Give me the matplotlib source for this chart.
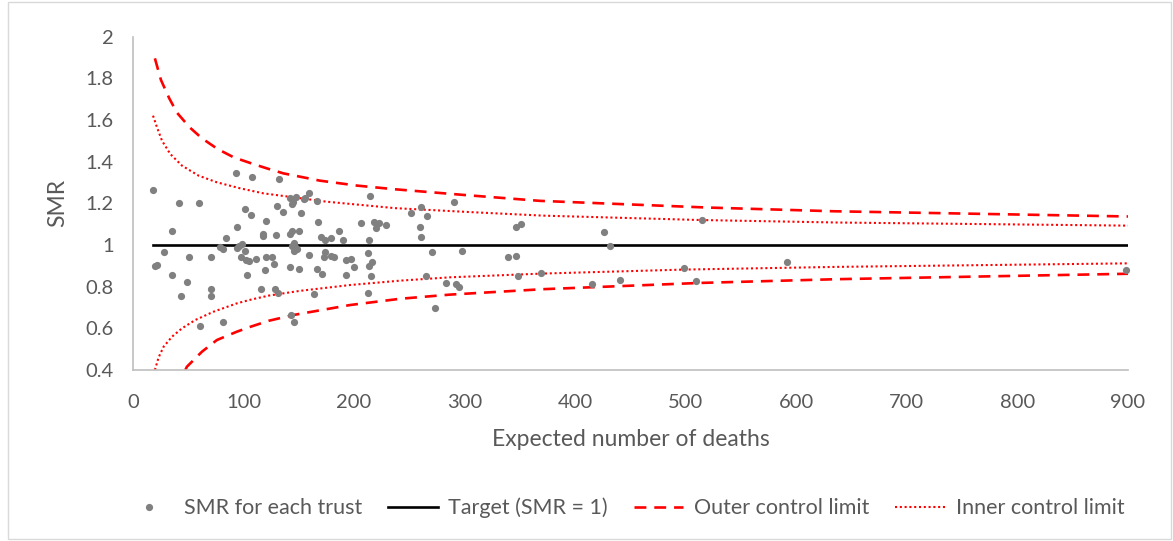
import matplotlib
matplotlib.use("Agg")
import matplotlib.pyplot as plt
from matplotlib.patches import Rectangle

# ---- data ----
trust_expected = [
    18.4, 41.9, 59.7, 93.4, 107.3, 101, 106.7, 120.3, 34.9, 94, 83.7, 117.2, 118,
    78.3, 81.4, 94, 96.1, 98.5, 101, 27.7, 50.3, 70.8, 97.9, 102.4, 104.5, 111.5,
    120.3, 21.7, 20.2, 119.6, 34.9, 102.7, 49.1, 115.4, 70.2, 43.7, 70.8, 60.9, 81.7,
    131.7, 159.4, 141.6, 147.7, 144.7, 143.8, 155.8, 154.6, 166.4, 214, 130.5, 135.3,
    152.2, 167.6, 205.8, 217.6, 222.1, 220, 228.8, 129.3, 144.1, 142.2, 149.7, 185.9,
    170.3, 173.3, 179.3, 189.9, 213.4, 145.2, 143.8, 146.5, 148.3, 145.2, 173.6, 125.7,
    127.8, 159.4, 172.7, 179, 182, 192.3, 196.8, 200.1, 212.8, 215.8, 213.1, 215.2,
    141.6, 149.7, 166.4, 170.9, 192.3, 128.4, 131.4, 164, 212.8, 142.9, 145.2,
    290.5, 251.9, 260.1, 265.8, 259.5, 346, 350.8, 260.7, 270.6, 297.8, 339.1, 346.3,
    265.2, 347.8, 369.2, 282.7, 292.1, 294.8, 273.1,
    425.6, 431.6, 514.5, 415, 440.9, 498.2, 509.4, 591.3, 898.6,
]
trust_smr = [
    1.264, 1.20, 1.20, 1.347, 1.326, 1.173, 1.144, 1.115, 1.067, 1.085, 1.035, 1.045, 1.053,
    0.989, 0.982, 0.986, 0.995, 1.005, 0.970, 0.966, 0.944, 0.941, 0.941, 0.928, 0.925, 0.931,
    0.941, 0.906, 0.898, 0.880, 0.856, 0.856, 0.822, 0.789, 0.789, 0.757, 0.757, 0.613, 0.632,
    1.315, 1.251, 1.227, 1.231, 1.208, 1.195, 1.227, 1.222, 1.210, 1.235, 1.186, 1.160,
    1.154, 1.109, 1.104, 1.110, 1.104, 1.083, 1.095, 1.046, 1.067, 1.053, 1.069, 1.069,
    1.040, 1.024, 1.032, 1.022, 1.022, 1.011, 0.995, 0.992, 0.979, 0.971, 0.966, 0.942,
    0.910, 0.950, 0.942, 0.949, 0.944, 0.926, 0.934, 0.894, 0.960, 0.918, 0.898, 0.853,
    0.894, 0.885, 0.885, 0.862, 0.857, 0.790, 0.770, 0.763, 0.770, 0.665, 0.629,
    1.208, 1.152, 1.182, 1.138, 1.088, 1.085, 1.101, 1.038, 0.966, 0.970, 0.944, 0.947,
    0.853, 0.851, 0.866, 0.816, 0.814, 0.798, 0.698,
    1.061, 0.995, 1.121, 0.811, 0.832, 0.891, 0.829, 0.917, 0.879,
]

target_x = [18, 900]
target_y = [1.0, 1.0]

outer_upper_x = [19.8, 25.3, 32.8, 39.8, 51.2, 62.4, 76.5, 91, 107, 121, 136, 169, 203, 236, 300, 368, 519, 634, 900]
outer_upper_y = [1.896, 1.792, 1.704, 1.635, 1.565, 1.512, 1.461, 1.421, 1.392, 1.368, 1.344, 1.309, 1.285, 1.268, 1.240, 1.212, 1.180, 1.162, 1.137]

inner_upper_x = [18.1, 21.7, 26.2, 33.7, 44.3, 59.3, 75.9, 97, 118, 175, 237, 305, 371, 513, 637, 900]
inner_upper_y = [1.621, 1.565, 1.501, 1.437, 1.381, 1.333, 1.301, 1.272, 1.248, 1.208, 1.177, 1.158, 1.141, 1.120, 1.108, 1.093]

inner_lower_x = [19.8, 23.2, 27.7, 35.3, 44.3, 56.3, 72.9, 94, 106, 122.6, 151, 196.5, 241.7, 287, 371, 498, 637, 900]
inner_lower_y = [0.400, 0.461, 0.512, 0.560, 0.600, 0.640, 0.680, 0.720, 0.737, 0.757, 0.780, 0.808, 0.829, 0.845, 0.863, 0.882, 0.895, 0.912]

outer_lower_x = [47.3, 48.8, 62.4, 75.9, 94, 106, 122.6, 145, 196.5, 241.7, 287, 371, 513, 637, 900]
outer_lower_y = [0.400, 0.416, 0.488, 0.544, 0.584, 0.607, 0.636, 0.664, 0.712, 0.742, 0.762, 0.788, 0.818, 0.836, 0.862]

x_ticks = [0, 100, 200, 300, 400, 500, 600, 700, 800, 900]
y_ticks = [0.4, 0.6, 0.8, 1.0, 1.2, 1.4, 1.6, 1.8, 2.0]
y_tick_labels = ["0.4", "0.6", "0.8", "1", "1.2", "1.4", "1.6", "1.8", "2"]

# ---- figure ----
plt.rcParams['font.family'] = ['Lato', 'DejaVu Sans']
W, H = 1173, 541
fig = plt.figure(figsize=(W / 100, H / 100), dpi=100)
fig.patches.append(Rectangle((8 / W, 2 / H), (W - 10) / W, (H - 4) / H, transform=fig.transFigure,
                             fill=False, edgecolor='#D9D9D9', linewidth=1.0))

ax = fig.add_axes([133 / W, 1 - 370 / H, (1128 - 133) / W, (370 - 36.7) / H])
ax.set_xlim(0, 900)
ax.set_ylim(0.4, 2.0)

ax.plot(trust_expected, trust_smr, linestyle='none', marker='o', markersize=5.2,
        color='#808080', markeredgewidth=0, label='SMR for each trust', zorder=4, clip_on=False)
ax.plot(target_x, target_y, color='black', linewidth=1.9, label='Target (SMR = 1)', zorder=3)
ax.plot(outer_upper_x, outer_upper_y, color='#FF0000', linewidth=1.9, linestyle=(0, (4.5, 3)),
        label='Outer control limit', zorder=2)
ax.plot(outer_lower_x, outer_lower_y, color='#FF0000', linewidth=1.9, linestyle=(0, (4.5, 3)), zorder=2)
ax.plot(inner_upper_x, inner_upper_y, color='#FF0000', linewidth=1.5, linestyle=(0, (1, 1.3)),
        label='Inner control limit', zorder=2)
ax.plot(inner_lower_x, inner_lower_y, color='#FF0000', linewidth=1.5, linestyle=(0, (1, 1.3)), zorder=2)

ax.set_xticks(x_ticks)
ax.set_yticks(y_ticks)
ax.set_yticklabels(y_tick_labels)
ax.tick_params(axis='both', length=0, labelsize=14.5, labelcolor='#595959')
ax.tick_params(axis='x', pad=17)
ax.tick_params(axis='y', pad=14)
for s in ['top', 'right']:
    ax.spines[s].set_visible(False)
for s in ['left', 'bottom']:
    ax.spines[s].set_color('#BFBFBF')
    ax.spines[s].set_linewidth(1.2)

ax.set_xlabel('Expected number of deaths', fontsize=16.5, color='#595959', labelpad=13)
ax.set_ylabel('SMR', fontsize=16.5, color='#595959', labelpad=12)

leg = fig.legend(loc='center', bbox_to_anchor=(624 / W, 1 - 508 / H), ncol=4, frameon=False,
                 fontsize=15.5, labelcolor='#595959', handlelength=2.3, columnspacing=1.2,
                 handletextpad=0.5)

fig.savefig('out.png', dpi=100)
